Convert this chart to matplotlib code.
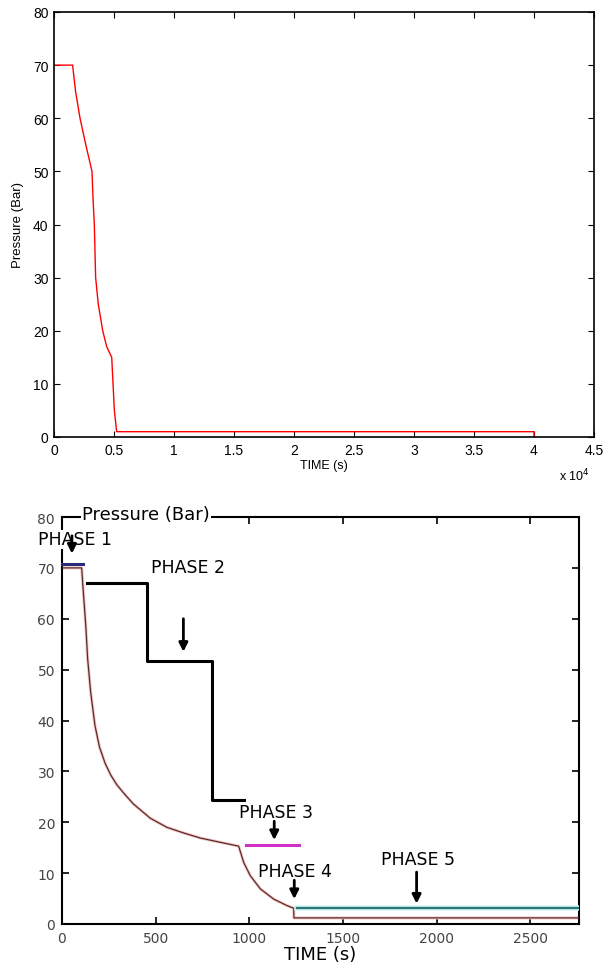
import matplotlib
matplotlib.use("Agg")
import matplotlib.pyplot as plt
from matplotlib.ticker import FuncFormatter

# ---------------- data: top chart (simulation, seconds) ----------------
top_time = [0, 1550, 1800, 2170, 2650, 3167, 3250, 3360, 3470, 3690, 4060, 4390, 4810,
            5030, 5220, 40000, 40000]
top_pressure = [70, 70, 65, 60, 55, 50, 45, 40, 30, 25, 20, 17, 15, 5, 1, 1, 0]
top_xticks = [0, 5000, 10000, 15000, 20000, 25000, 30000, 35000, 40000, 45000]
top_yticks = [0, 10, 20, 30, 40, 50, 60, 70, 80]

# ---------------- data: bottom chart (experiment, seconds) ----------------
bot_time = [0, 105, 114, 127, 137, 153, 176, 200, 230, 260, 292, 337, 381, 471, 560, 649,
            738, 827, 943, 970, 1005, 1059, 1130, 1202, 1237, 1238, 2760]
bot_pressure = [70, 70, 65.2, 58.6, 52.1, 45.6, 39.0, 34.8, 31.6, 29.3, 27.4, 25.4, 23.6,
                20.8, 19.0, 17.9, 16.9, 16.2, 15.3, 12.1, 9.5, 6.9, 4.9, 3.6, 3.1, 1.2, 1.2]

step_time = [135, 453, 453, 802, 802, 973]
step_pressure = [67, 67, 51.7, 51.7, 24.4, 24.4]

phase1_time = [0, 112]
phase1_pressure = [70.8, 70.8]
phase3_time = [983, 1267]
phase3_pressure = [15.5, 15.5]
phase5_time = [1255, 2760]
phase5_pressure = [3.1, 3.1]

phase_labels = ["PHASE 1", "PHASE 2", "PHASE 3", "PHASE 4", "PHASE 5"]
label_time = [70, 675, 1143, 1246, 1898]
label_pressure = [75.6, 70.1, 22.0, 10.4, 12.8]
arrow_time = [53, 648, 1133, 1240, 1893]
arrow_start = [76.3, 60.0, 20.2, 8.6, 10.2]
arrow_end = [72.8, 53.5, 16.5, 4.9, 4.0]

bot_xticks = [0, 500, 1000, 1500, 2000, 2500]
bot_yticks = [0, 10, 20, 30, 40, 50, 60, 70, 80]

fig = plt.figure(figsize=(6.03, 9.70), dpi=100)

# ---------------- top chart ----------------
ax1 = fig.add_axes([54 / 603, 1 - 438 / 970, (594 - 54) / 603, (438 - 13) / 970])
ax1.plot(top_time, top_pressure, color="red", lw=1)
ax1.set_xlim(0, 45000)
ax1.set_ylim(0, 80)
ax1.set_xticks(top_xticks)
ax1.set_yticks(top_yticks)
ax1.xaxis.set_major_formatter(FuncFormatter(lambda v, p: f"{v / 1e4:g}"))
ax1.tick_params(direction="in", top=True, right=True, length=4, width=0.8,
                labelsize=10, pad=4)
for lab in ax1.get_xticklabels() + ax1.get_yticklabels():
    lab.set_family("Liberation Sans")
for s in ax1.spines.values():
    s.set_linewidth(1.2)
ax1.set_xlabel("TIME (s)", fontsize=9, family="Liberation Sans", labelpad=2)
ax1.set_ylabel("Pressure (Bar)", fontsize=9.5, family="Liberation Sans", labelpad=6)
fig.text(574 / 603, 1 - 476 / 970, r"x 10$^{4}$", fontsize=9, family="Liberation Sans",
         ha="center", va="center")

# ---------------- bottom chart ----------------
ax2 = fig.add_axes([62 / 603, 1 - 925 / 970, (579 - 62) / 603, (925 - 518) / 970])
ax2.plot(bot_time, bot_pressure, color="#f3c8c8", lw=2.2, zorder=2)
ax2.plot(bot_time, bot_pressure, color="#5a2a2a", lw=0.9, zorder=3)
ax2.plot(step_time, step_pressure, color="black", lw=2.2, zorder=3)
ax2.plot(phase1_time, phase1_pressure, color="#2a2a7a", lw=2.2, zorder=4, clip_on=False)
ax2.plot(phase3_time, phase3_pressure, color="#d030c8", lw=2.2, zorder=4)
ax2.plot(phase5_time, phase5_pressure, color="#c8f4f4", lw=4, zorder=3)
ax2.plot(phase5_time, phase5_pressure, color="#2f7373", lw=1.6, zorder=4)
ax2.set_xlim(0, 2760)
ax2.set_ylim(0, 80)
ax2.set_xticks(bot_xticks)
ax2.set_yticks(bot_yticks)
ax2.tick_params(direction="in", top=True, right=True, length=5, width=1.2,
                labelsize=10, labelcolor="#444444", pad=5)
for s in ax2.spines.values():
    s.set_linewidth(1.5)
ax2.set_xlabel("TIME (s)", fontsize=13, labelpad=0)
ax2.text(449, 80.6, "Pressure (Bar)", fontsize=13, ha="center", va="center",
         bbox=dict(facecolor="white", edgecolor="none", pad=1), zorder=10, clip_on=False)

for lab, lt, lp, at, a0, a1 in zip(phase_labels, label_time, label_pressure,
                                   arrow_time, arrow_start, arrow_end):
    ax2.text(lt, lp, lab, fontsize=12.5, ha="center", va="center", zorder=10,
             bbox=dict(facecolor="white", edgecolor="none", pad=0.5), clip_on=False)
    ax2.annotate("", xy=(at, a1), xytext=(at, a0),
                 arrowprops=dict(arrowstyle="-|>", color="black", lw=2,
                                 mutation_scale=13, shrinkA=0, shrinkB=0),
                 zorder=11)

fig.savefig("out.png", dpi=100)
